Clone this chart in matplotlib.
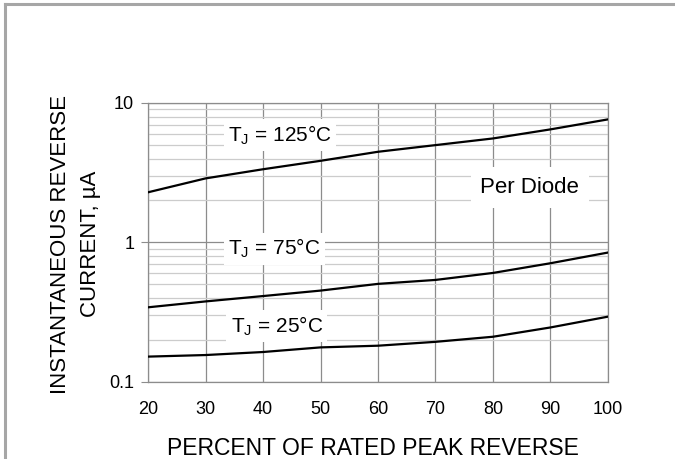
import matplotlib
matplotlib.use("Agg")
import matplotlib.pyplot as plt
from matplotlib.lines import Line2D
from matplotlib.ticker import FixedLocator, NullFormatter

plt.rcParams["font.family"] = ["Liberation Sans", "DejaVu Sans"]

# percent of rated peak reverse voltage
pct = [20, 30, 40, 50, 60, 70, 80, 90, 100]
# instantaneous reverse current, uA
i_125 = [2.29, 2.88, 3.35, 3.85, 4.47, 4.99, 5.57, 6.47, 7.63]
i_75 = [0.343, 0.378, 0.413, 0.452, 0.505, 0.539, 0.605, 0.71, 0.847]
i_25 = [0.152, 0.156, 0.164, 0.177, 0.182, 0.194, 0.211, 0.246, 0.294]

x_ticks = [20, 30, 40, 50, 60, 70, 80, 90, 100]
y_ticks = [0.1, 1, 10]
y_ticklabels = ["0.1", "1", "10"]

GRID_DARK = "#8c8c8c"
GRID_LIGHT = "#cccccc"

fig = plt.figure(figsize=(6.75, 4.59), dpi=100)
ax = fig.add_axes([0.2193, 0.1678, 0.6814, 0.6078])

ax.set_yscale("log")
ax.set_xlim(20, 100)
ax.set_ylim(0.1, 10)

ax.set_xticks(x_ticks)
ax.set_xticklabels([str(v) for v in x_ticks])
ax.set_yticks(y_ticks)
ax.set_yticklabels(y_ticklabels)
ax.yaxis.set_minor_locator(FixedLocator([m * d for d in (0.1, 1) for m in range(2, 10)]))
ax.yaxis.set_minor_formatter(NullFormatter())

ax.tick_params(axis="x", length=0, pad=14, labelsize=13)
ax.tick_params(axis="y", which="major", length=5, color=GRID_DARK, pad=5, labelsize=13)
ax.tick_params(axis="y", which="minor", length=0)

ax.grid(True, axis="x", color=GRID_DARK, linewidth=0.9)
ax.grid(True, axis="y", which="major", color=GRID_DARK, linewidth=0.9)
ax.grid(True, axis="y", which="minor", color=GRID_LIGHT, linewidth=0.9)
ax.set_axisbelow(True)
for sp in ax.spines.values():
    sp.set_color(GRID_DARK)
    sp.set_linewidth(0.9)

for y in (i_125, i_75, i_25):
    ax.plot(pct, y, color="black", linewidth=1.6, zorder=3)

box = dict(facecolor="white", edgecolor="none", pad=3)
ax.text(43, 5.9, r"T$_\mathregular{J}$ = 125°C", fontsize=15, ha="center", va="center", bbox=box, zorder=4)
ax.text(42, 0.905, r"T$_\mathregular{J}$ = 75°C", fontsize=15, ha="center", va="center", bbox=box, zorder=4)
ax.text(42.4, 0.253, r"T$_\mathregular{J}$ = 25°C", fontsize=15, ha="center", va="center", bbox=box, zorder=4)
ax.text(86.4, 2.49, "Per Diode", fontsize=16, ha="center", va="center",
        bbox=dict(facecolor="white", edgecolor="none", pad=7), zorder=4)

fig.text(0.112, 0.468, "INSTANTANEOUS REVERSE\nCURRENT, µA", fontsize=16, rotation=90,
         ha="center", va="center", multialignment="center", linespacing=1.55)
fig.text(0.553, 0.009, "PERCENT OF RATED PEAK REVERSE", fontsize=16.5, ha="center", va="baseline")

# frame around the figure (only left and top edges visible)
fig.add_artist(Line2D([0.0074, 0.0074], [0, 0.9913], transform=fig.transFigure, color="#a6a6a6", linewidth=2.2))
fig.add_artist(Line2D([0.0074, 1.0], [0.9913, 0.9913], transform=fig.transFigure, color="#a6a6a6", linewidth=2.2))

fig.savefig("out.png", dpi=100)
